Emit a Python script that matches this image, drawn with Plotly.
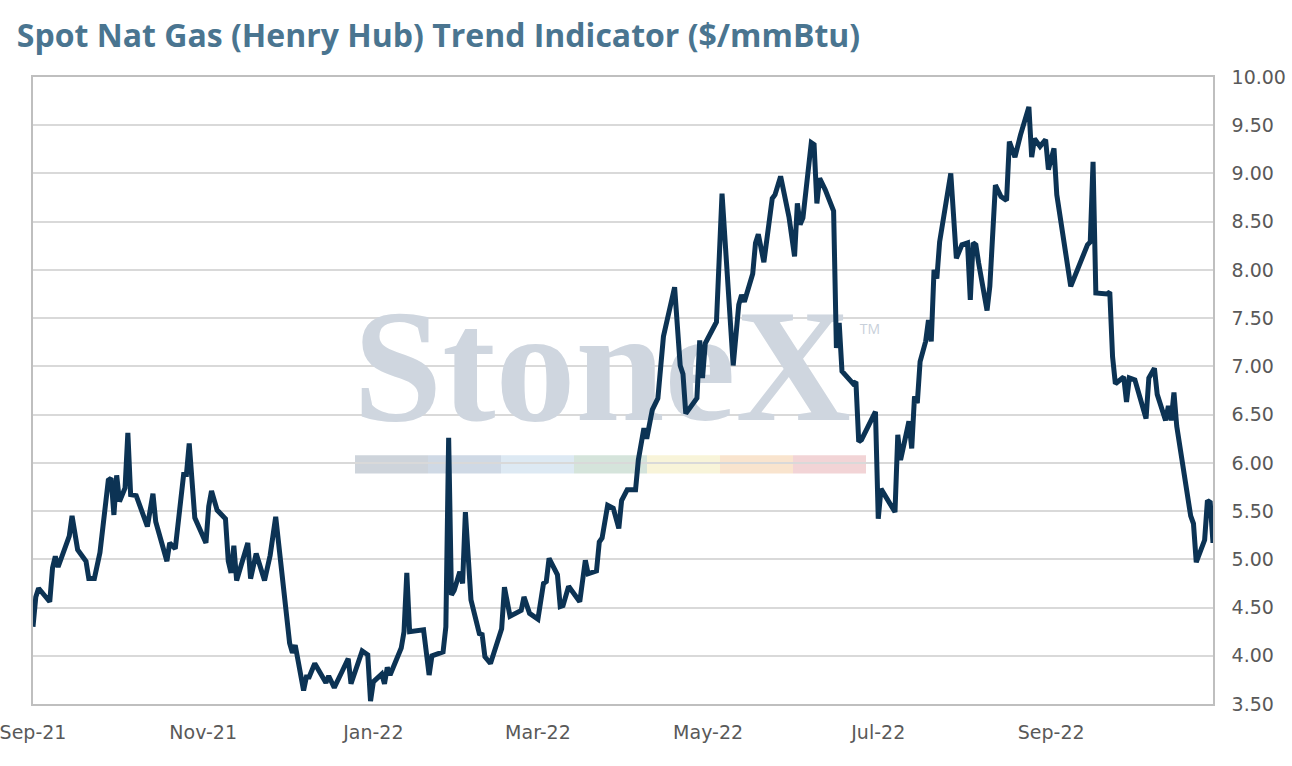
import plotly.graph_objects as go

dates = [
    "2021-09-01", "2021-09-02", "2021-09-03", "2021-09-07", "2021-09-08", "2021-09-09", "2021-09-10",
    "2021-09-14", "2021-09-15", "2021-09-17", "2021-09-20", "2021-09-21", "2021-09-23", "2021-09-25",
    "2021-09-28", "2021-09-29", "2021-09-30", "2021-10-01", "2021-10-02", "2021-10-04", "2021-10-05",
    "2021-10-06", "2021-10-08", "2021-10-12", "2021-10-14", "2021-10-15", "2021-10-19", "2021-10-20",
    "2021-10-22", "2021-10-25", "2021-10-26", "2021-10-27", "2021-10-29", "2021-11-02", "2021-11-03",
    "2021-11-04", "2021-11-06", "2021-11-09", "2021-11-10", "2021-11-11", "2021-11-12", "2021-11-13",
    "2021-11-17", "2021-11-18", "2021-11-20", "2021-11-23", "2021-11-25", "2021-11-27", "2021-12-02",
    "2021-12-03", "2021-12-04", "2021-12-07", "2021-12-08", "2021-12-09", "2021-12-11", "2021-12-15",
    "2021-12-16", "2021-12-18", "2021-12-21", "2021-12-23", "2021-12-24", "2021-12-28", "2021-12-30",
    "2021-12-31", "2022-01-01", "2022-01-04", "2022-01-05", "2022-01-06", "2022-01-07", "2022-01-11",
    "2022-01-12", "2022-01-13", "2022-01-14", "2022-01-19", "2022-01-21", "2022-01-22", "2022-01-26",
    "2022-01-27", "2022-01-28", "2022-01-29", "2022-01-30", "2022-02-01", "2022-02-02", "2022-02-03",
    "2022-02-05", "2022-02-08", "2022-02-09", "2022-02-10", "2022-02-12", "2022-02-16", "2022-02-17",
    "2022-02-19", "2022-02-23", "2022-02-24", "2022-02-26", "2022-03-01", "2022-03-03", "2022-03-04",
    "2022-03-05", "2022-03-08", "2022-03-09", "2022-03-10", "2022-03-12", "2022-03-16", "2022-03-18",
    "2022-03-19", "2022-03-22", "2022-03-23", "2022-03-24", "2022-03-26", "2022-03-28", "2022-03-30",
    "2022-03-31", "2022-04-01", "2022-04-02", "2022-04-05", "2022-04-06", "2022-04-08", "2022-04-09",
    "2022-04-11", "2022-04-13", "2022-04-15", "2022-04-19", "2022-04-21", "2022-04-22", "2022-04-23",
    "2022-04-27", "2022-04-28", "2022-04-29", "2022-04-30", "2022-05-04", "2022-05-06", "2022-05-10",
    "2022-05-12", "2022-05-13", "2022-05-14", "2022-05-17", "2022-05-18", "2022-05-19", "2022-05-21",
    "2022-05-24", "2022-05-25", "2022-05-27", "2022-05-30", "2022-06-01", "2022-06-02", "2022-06-03",
    "2022-06-04", "2022-06-07", "2022-06-08", "2022-06-09", "2022-06-10", "2022-06-12", "2022-06-15",
    "2022-06-16", "2022-06-17", "2022-06-18", "2022-06-22", "2022-06-23", "2022-06-24", "2022-06-25",
    "2022-06-30", "2022-07-01", "2022-07-02", "2022-07-07", "2022-07-08", "2022-07-09", "2022-07-12",
    "2022-07-13", "2022-07-14", "2022-07-15", "2022-07-16", "2022-07-18", "2022-07-19", "2022-07-20",
    "2022-07-21", "2022-07-22", "2022-07-23", "2022-07-27", "2022-07-29", "2022-07-31", "2022-08-02",
    "2022-08-03", "2022-08-04", "2022-08-05", "2022-08-06", "2022-08-09", "2022-08-10", "2022-08-12",
    "2022-08-14", "2022-08-16", "2022-08-17", "2022-08-19", "2022-08-21", "2022-08-24", "2022-08-25",
    "2022-08-26", "2022-08-28", "2022-08-30", "2022-08-31", "2022-09-02", "2022-09-03", "2022-09-08",
    "2022-09-14", "2022-09-15", "2022-09-16", "2022-09-17", "2022-09-21", "2022-09-22", "2022-09-23",
    "2022-09-24", "2022-09-27", "2022-09-28", "2022-09-29", "2022-10-01", "2022-10-05", "2022-10-06",
    "2022-10-08", "2022-10-09", "2022-10-12", "2022-10-13", "2022-10-14", "2022-10-15", "2022-10-16",
    "2022-10-18", "2022-10-21", "2022-10-22", "2022-10-23", "2022-10-26", "2022-10-27", "2022-10-28",
    "2022-10-29",
]

prices = [
    4.30, 4.61, 4.70, 4.56, 4.91, 5.03, 4.92,
    5.24, 5.45, 5.10, 4.98, 4.80, 4.80, 5.07,
    5.82, 5.84, 5.46, 5.87, 5.60, 5.74, 6.31,
    5.67, 5.66, 5.34, 5.68, 5.39, 4.98, 5.17,
    5.11, 5.88, 5.88, 6.20, 5.43, 5.17, 5.55,
    5.71, 5.51, 5.42, 4.98, 4.86, 5.14, 4.78,
    5.17, 4.80, 5.06, 4.78, 5.04, 5.44, 4.13,
    4.03, 4.11, 3.64, 3.78, 3.78, 3.92, 3.72,
    3.79, 3.67, 3.85, 3.97, 3.71, 4.05, 4.01,
    3.53, 3.73, 3.81, 3.71, 3.88, 3.80, 4.08,
    4.25, 4.86, 4.25, 4.27, 3.80, 4.00, 4.04,
    4.30, 6.26, 4.63, 4.68, 4.87, 4.75, 5.49,
    4.58, 4.23, 4.22, 3.99, 3.92, 4.28, 4.71,
    4.41, 4.47, 4.61, 4.44, 4.38, 4.75, 4.77,
    5.01, 4.84, 4.51, 4.52, 4.72, 4.56, 4.99,
    4.85, 4.88, 5.18, 5.22, 5.56, 5.53, 5.32,
    5.61, 5.67, 5.72, 5.72, 6.03, 6.36, 6.25,
    6.55, 6.67, 7.31, 7.82, 7.01, 6.92, 6.51,
    6.67, 7.27, 6.88, 7.24, 7.46, 8.79, 7.01,
    7.64, 7.74, 7.67, 7.96, 8.28, 8.37, 8.08,
    8.74, 8.78, 8.97, 8.55, 8.14, 8.69, 8.47,
    8.54, 9.32, 9.30, 8.69, 8.95, 8.83, 8.61,
    7.19, 7.45, 6.95, 6.82, 6.84, 6.22, 6.24,
    6.53, 5.42, 5.73, 5.49, 6.29, 6.03, 6.43,
    6.15, 6.69, 6.62, 7.05, 7.26, 7.48, 7.26,
    8.00, 7.91, 8.29, 9.00, 8.12, 8.26, 8.28,
    7.69, 8.28, 8.26, 8.07, 7.58, 7.83, 8.88,
    8.76, 8.72, 9.33, 9.17, 9.40, 9.69, 9.17,
    9.36, 9.28, 9.35, 9.04, 9.26, 8.78, 7.83,
    8.26, 8.29, 9.12, 7.76, 7.75, 7.77, 7.10,
    6.82, 6.89, 6.63, 6.88, 6.86, 6.46, 6.88,
    6.98, 6.71, 6.44, 6.59, 6.44, 6.73, 6.38,
    6.02, 5.45, 5.37, 4.97, 5.20, 5.61, 5.59,
    5.17,
]

month_ticks = ["2021-09-01", "2021-11-01", "2022-01-01", "2022-03-01",
               "2022-05-01", "2022-07-01", "2022-09-01"]
month_labels = ["Sep-21", "Nov-21", "Jan-22", "Mar-22", "May-22", "Jul-22", "Sep-22"]

# watermark colour strip
strip_colors = ["#ced4db", "#cfd9e5", "#dde9f3", "#d5e4db", "#f8f4d9", "#f9e4ce", "#f2d4d6"]

fig = go.Figure()

# StoneX watermark (drawn first so the line sits on top)
fig.add_trace(go.Scatter(
    x=["2022-03-24"], y=[6.86], mode="text", text=["StoneX"],
    textfont=dict(family="Liberation Serif", size=160, color="#cfd6df", weight="bold"),
    hoverinfo="skip", showlegend=False,
))
fig.add_trace(go.Scatter(
    x=["2022-06-28"], y=[7.37], mode="text", text=["TM"],
    textfont=dict(family="Open Sans", size=14, color="#c8d0da"),
    hoverinfo="skip", showlegend=False,
))

fig.add_trace(go.Scatter(
    x=dates, y=prices, mode="lines",
    line=dict(color="#0c3354", width=5),
    showlegend=False,
))

x0 = (355 - 33) / 1180
w = 73 / 1180
for i, c in enumerate(strip_colors):
    fig.add_shape(type="rect", xref="paper", yref="y",
                  x0=x0 + i * w, x1=x0 + (i + 1) * w, y0=5.89, y1=6.08,
                  fillcolor=c, line_width=0, layer="below")

fig.update_layout(
    width=1292, height=766,
    margin=dict(l=33, r=79, t=77, b=62),
    paper_bgcolor="white", plot_bgcolor="white",
    title=dict(text="Spot Nat Gas (Henry Hub) Trend Indicator ($/mmBtu)",
               x=0.013, xanchor="left", y=0.953, yanchor="middle",
               font=dict(family="Open Sans", size=32, color="#4a7590", weight=700)),
)

fig.update_xaxes(
    type="date", range=["2021-09-01", "2022-10-29"],
    tickvals=month_ticks, ticktext=month_labels,
    showgrid=False, ticks="", ticklen=0, automargin=False,
    ticklabeloverflow="allow",
    showline=True, linecolor="#bfbfbf", linewidth=1.5, mirror=True,
    tickfont=dict(family="DejaVu Sans", size=19, color="#595959"),
    ticklabelstandoff=10,
)
fig.update_yaxes(
    side="right", range=[3.5, 10], dtick=0.5, tickformat=".2f",
    showgrid=True, gridcolor="#d9d9d9", gridwidth=1.5, automargin=False,
    ticklabeloverflow="allow",
    showline=True, linecolor="#bfbfbf", linewidth=1.5, mirror=True,
    tickfont=dict(family="DejaVu Sans", size=19, color="#595959"),
    ticks="", ticklabelstandoff=13, zeroline=False,
)

# drop the default page margin so the figure sits at the window corner
fig.write_html("out.html", config={"displayModeBar": False},
               post_script="document.body.style.margin='0';")
